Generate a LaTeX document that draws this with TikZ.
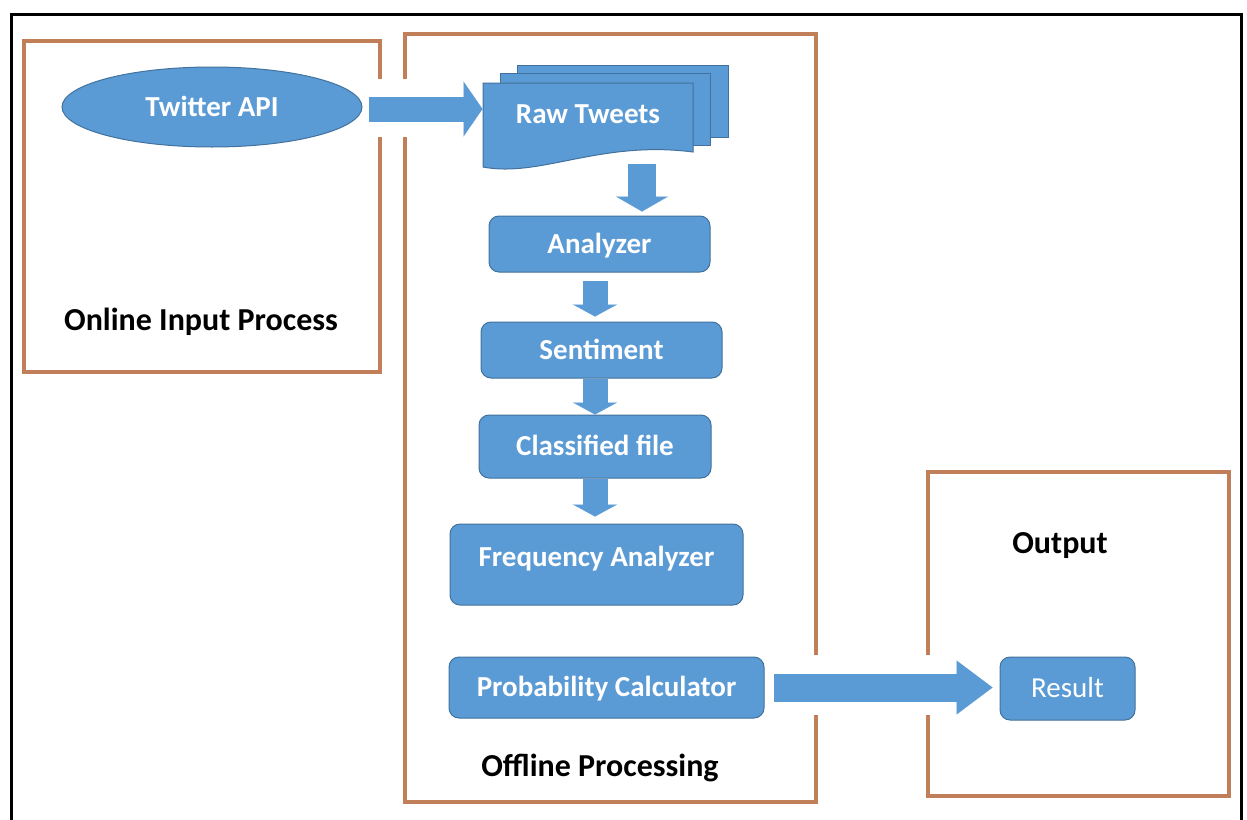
\documentclass[tikz,border=0pt]{standalone}
\usepackage{fontspec}
\setmainfont{Carlito}
\usetikzlibrary{shapes.geometric,arrows.meta,positioning,calc}
\definecolor{boxblue}{HTML}{5B9BD5}
\definecolor{boxedge}{HTML}{41719C}
\definecolor{framebrown}{RGB}{192,127,88}

\begin{document}
\begin{tikzpicture}[x=1pt,y=-1pt,
    frame/.style={draw=framebrown,line width=4pt},
    box/.style={draw=boxedge,fill=boxblue,line width=1pt,rounded corners=10pt,
        text=white,font=\fontsize{29}{34}\selectfont\bfseries,
        text height=18.6pt,text depth=0pt,inner sep=0pt},
    tag/.style={font=\fontsize{32}{38}\selectfont\bfseries,text=black},
    blockarrow/.style args={#1/#2/#3}{draw=boxblue,line width=#1,
        -{Triangle[width=#2,length=#3,line width=0.1pt]}}]
                \useasboundingbox (0,0) rectangle (1247,819);
                %Frames
                \draw[line width=3pt] (11,840) -- (11,14) -- (1241,14) -- (1241,840);
                \draw[frame] (380,79) -- (380,41) -- (24,41) -- (24,372) -- (380,372) -- (380,137);
                \draw[frame] (405,79) -- (405,34) -- (816,34) -- (816,655);
                \draw[frame] (816,715) -- (816,802) -- (405,802) -- (405,137);
                \draw[frame] (928,655) -- (928,472) -- (1229,472) -- (1229,796) -- (928,796) -- (928,715);
                %Raw tweets sheets
                \coordinate (r1) at (483,83);
                \coordinate (r2) at (500,73);
                \coordinate (r3) at (517,65);
                \filldraw[draw=boxedge,fill=boxblue,line width=1pt] (r3) rectangle ++(211,72);
                \filldraw[draw=boxedge,fill=boxblue,line width=1pt] (r2) rectangle ++(210,72);
                \filldraw[draw=boxedge,fill=boxblue,line width=1pt] (r1) -- ++(210,0) -- ++(0,69)
                    .. controls (600,140) and (540,178) .. (483,167) -- cycle;
                %Nodes
                \node[box,shape=ellipse,rounded corners=0pt,minimum width=300pt,minimum height=80pt] (twitter) at (212,107) {Twitter API};
                \node[box,draw=none,fill=none,rounded corners=0pt,minimum width=210pt,minimum height=84pt,text depth=22pt] (raw) at ($(r1)+(105,42)$) {Raw Tweets};
                \node[box,minimum width=221pt,minimum height=56pt] (analyzer) at (599.5,244) {Analyzer};
                \node[box,minimum width=241pt,minimum height=56pt] (sentiment) at (601.5,350) {Sentiment};
                \node[box,minimum width=232pt,minimum height=63pt] (classified) at (595,446.5) {Classified file};
                \node[box,minimum width=293pt,minimum height=81pt,text depth=15pt] (freq) at (596.5,564.5) {Frequency Analyzer};
                \node[box,minimum width=315pt,minimum height=61pt] (prob) at (606.5,687.5) {Probability Calculator};
                \node[box,minimum width=135pt,minimum height=63pt,font=\fontsize{29}{34}\selectfont] (result) at (1067.5,688.5) {Result};
                %Labels
                \node[tag] (online) at (201,322) {Online Input Process};
                \node[tag] (offline) at (600,768) {Offline Processing};
                \node[tag] (output) at (1060,546) {Output};
                %Arrows
                \draw[blockarrow=25pt/55pt/19pt,shorten <=6pt] ([yshift=-2pt]twitter.east) -- ([yshift=-2pt]twitter.east -| raw.west);
                \draw[blockarrow=28pt/52pt/15pt,shorten >=4pt] ([xshift=54pt,yshift=4pt]raw.south) -- ([xshift=54pt]raw.south |- analyzer.north);
                \draw[blockarrow=25pt/44pt/12pt,shorten >=5pt] ([yshift=-8pt]analyzer.south -| classified.south) -- (sentiment.north -| classified.south);
                \draw[blockarrow=25pt/44pt/12pt] (sentiment.south -| classified.south) -- (classified.north);
                \draw[blockarrow=25pt/44pt/12pt,shorten >=7pt] (classified.south) -- (classified.south |- freq.north);
                \draw[blockarrow=28pt/54pt/36pt,shorten <=9pt,shorten >=7pt] (prob.east) -- (prob.east -| result.west);
\end{tikzpicture}
\end{document}
